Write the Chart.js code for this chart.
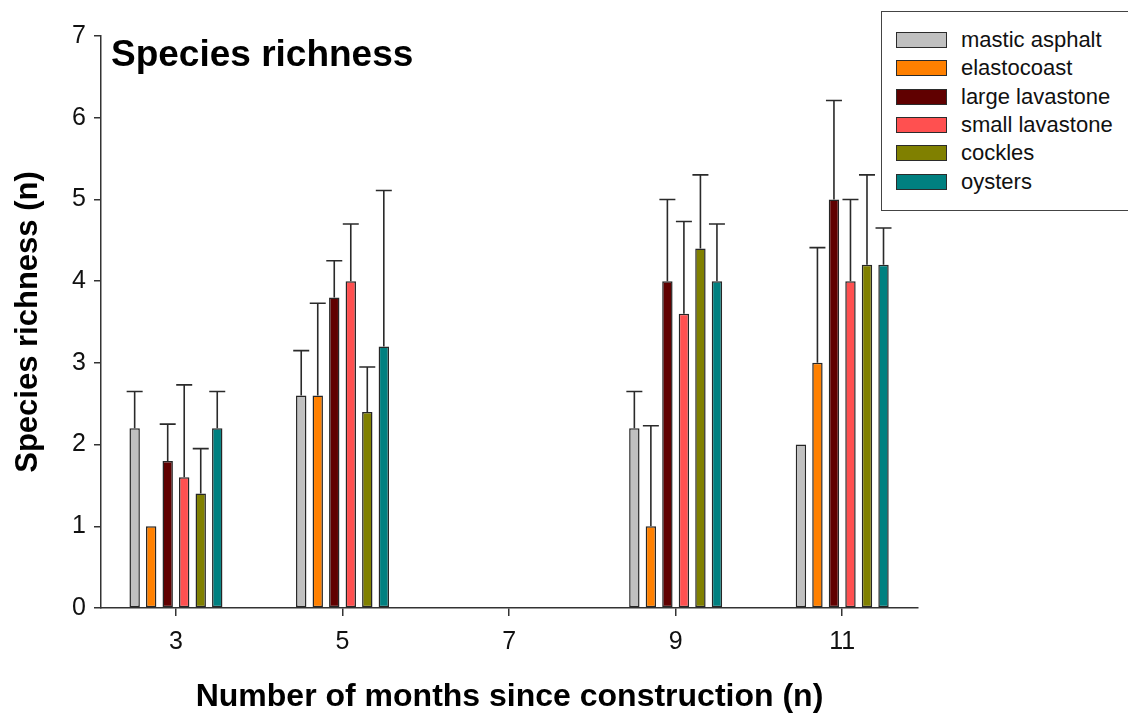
<!DOCTYPE html>
<html>
<head>
<meta charset="utf-8">
<script src="https://cdn.jsdelivr.net/npm/chart.js@4.4.1/dist/chart.umd.min.js"></script>
<style>
  html, body { margin: 0; padding: 0; background: #fff; overflow: hidden; }
  #wrap { position: relative; width: 1128px; height: 715px; }
  #legend {
    position: absolute; left: 881px; top: 11px; width: 280px; height: 200px;
    border: 1.5px solid #444; box-sizing: border-box; background: #fff;
    font-family: "Liberation Sans", Arial, sans-serif; font-size: 22px; color: #111;
  }
  #legend .item { position: absolute; left: 14px; height: 28px; display: flex; align-items: center; white-space: nowrap; }
  #legend .sw { width: 49px; height: 14px; border: 1.5px solid #2b2b2b; margin-right: 14px; }
</style>
</head>
<body>
<div id="wrap">
  <canvas id="c" width="1128" height="715"></canvas>
  <div id="legend"></div>
</div>
<script>
// Sampling times (months after construction) and their axis labels
const months = [3, 5, 7, 9, 11];
const monthLabels = ['3', '5', '7', '9', '11'];

// Substrate treatments
const seriesNames = ['mastic asphalt', 'elastocoast', 'large lavastone', 'small lavastone', 'cockles', 'oysters'];
const seriesColors = ['#c0c0c0', '#ff8000', '#600000', '#ff5050', '#808000', '#008080'];

// Mean species richness per month (no sampling at month 7)
const masticAsphalt  = [2.2, 2.6, null, 2.2, 2.0];
const elastocoast    = [1.0, 2.6, null, 1.0, 3.0];
const largeLavastone = [1.8, 3.8, null, 4.0, 5.0];
const smallLavastone = [1.6, 4.0, null, 3.6, 4.0];
const cockles        = [1.4, 2.4, null, 4.4, 4.2];
const oysters        = [2.2, 3.2, null, 4.0, 4.2];

// Upper error (SD) per month
const masticAsphaltErr  = [0.45, 0.55, null, 0.45, 0];
const elastocoastErr    = [0,    1.13, null, 1.23, 1.41];
const largeLavastoneErr = [0.45, 0.45, null, 1.0,  1.21];
const smallLavastoneErr = [1.13, 0.70, null, 1.13, 1.0];
const cocklesErr        = [0.55, 0.55, null, 0.90, 1.1];
const oystersErr        = [0.45, 1.91, null, 0.70, 0.45];

// Y axis range
const yTicksMin = 0, yTicksMax = 7;

const seriesValues = [masticAsphalt, elastocoast, largeLavastone, smallLavastone, cockles, oysters];
const seriesErrors = [masticAsphaltErr, elastocoastErr, largeLavastoneErr, smallLavastoneErr, cocklesErr, oystersErr];

const FONT = '"Liberation Sans", Arial, Helvetica, sans-serif';

const datasets = seriesNames.map((name, s) => ({
  label: name,
  data: months.map((m, i) => ({ x: m, y: seriesValues[s][i] })),
  errors: seriesErrors[s],
  backgroundColor: seriesColors[s],
  borderColor: '#262626',
  borderWidth: 1.5,
  borderSkipped: false,
  barPercentage: 0.63,
  categoryPercentage: 0.595
}));

// Upward error bars with caps
const errorBars = {
  id: 'errorBars',
  afterDatasetsDraw(chart) {
    const ctx = chart.ctx;
    const yScale = chart.scales.y;
    chart.data.datasets.forEach((ds, di) => {
      const meta = chart.getDatasetMeta(di);
      meta.data.forEach((bar, i) => {
        const pt = ds.data[i];
        const e = ds.errors[i];
        if (pt.y === null || !e) return;
        const top = yScale.getPixelForValue(pt.y + e);
        ctx.save();
        ctx.strokeStyle = '#2a2a2a';
        ctx.lineWidth = 1.6;
        ctx.beginPath();
        ctx.moveTo(bar.x, bar.y);
        ctx.lineTo(bar.x, top);
        ctx.moveTo(bar.x - 8, top);
        ctx.lineTo(bar.x + 8, top);
        ctx.stroke();
        ctx.restore();
      });
    });
  }
};

// Panel heading inside the plot area
const panelTitle = {
  id: 'panelTitle',
  afterDraw(chart, args, opts) {
    const { ctx, chartArea } = chart;
    ctx.save();
    ctx.font = 'bold 37px ' + FONT;
    ctx.fillStyle = '#000';
    ctx.textBaseline = 'alphabetic';
    ctx.textAlign = 'left';
    ctx.fillText(opts.text, chartArea.left + 10, chartArea.top + 30);
    ctx.restore();
  }
};

// Boxed legend built from the datasets
const htmlLegend = {
  id: 'htmlLegend',
  afterUpdate(chart) {
    const box = document.getElementById('legend');
    box.innerHTML = '';
    chart.data.datasets.forEach((ds, i) => {
      const item = document.createElement('div');
      item.className = 'item';
      item.style.top = (14 + i * 28.35) + 'px';
      const sw = document.createElement('span');
      sw.className = 'sw';
      sw.style.background = ds.backgroundColor;
      const tx = document.createElement('span');
      tx.textContent = ds.label;
      item.appendChild(sw);
      item.appendChild(tx);
      box.appendChild(item);
    });
  }
};

new Chart(document.getElementById('c'), {
  type: 'bar',
  data: { datasets },
  plugins: [errorBars, panelTitle, htmlLegend],
  options: {
    responsive: false,
    animation: false,
    devicePixelRatio: 1,
    layout: { padding: { top: 36, right: 210, left: 0, bottom: 0 } },
    plugins: {
      legend: { display: false },
      tooltip: { enabled: false },
      panelTitle: { text: 'Species richness' }
    },
    scales: {
      x: {
        type: 'linear',
        min: 2.1,
        max: 11.91,
        offset: false,
        afterBuildTicks: s => { s.ticks = months.map(v => ({ value: v })); },
        afterFit: s => { s.height = 107; },
        grid: { offset: false, drawOnChartArea: false, drawTicks: true, tickLength: 8, color: '#333', lineWidth: 1.5 },
        border: { display: true, color: '#333', width: 1.5 },
        ticks: {
          padding: 11,
          color: '#111',
          font: { size: 25, family: FONT },
          callback: (v, i) => monthLabels[i]
        },
        title: {
          display: true,
          text: 'Number of months since construction (n)',
          color: '#000',
          font: { size: 32, weight: 'bold', family: FONT, lineHeight: 1.1 },
          padding: { top: 0, bottom: 0 }
        }
      },
      y: {
        min: yTicksMin,
        max: yTicksMax,
        afterFit: s => { s.width = 101; },
        grid: { drawOnChartArea: false, drawTicks: true, tickLength: 7, color: '#333', lineWidth: 1.5 },
        border: { display: true, color: '#333', width: 1.5 },
        ticks: { stepSize: 1, padding: 8, color: '#111', font: { size: 25, family: FONT } },
        title: {
          display: true,
          text: 'Species richness (n)',
          color: '#000',
          font: { size: 31, weight: 'bold', family: FONT, lineHeight: 1.2 },
          padding: { top: 10, bottom: 0 }
        }
      }
    }
  }
});
</script>
</body>
</html>
